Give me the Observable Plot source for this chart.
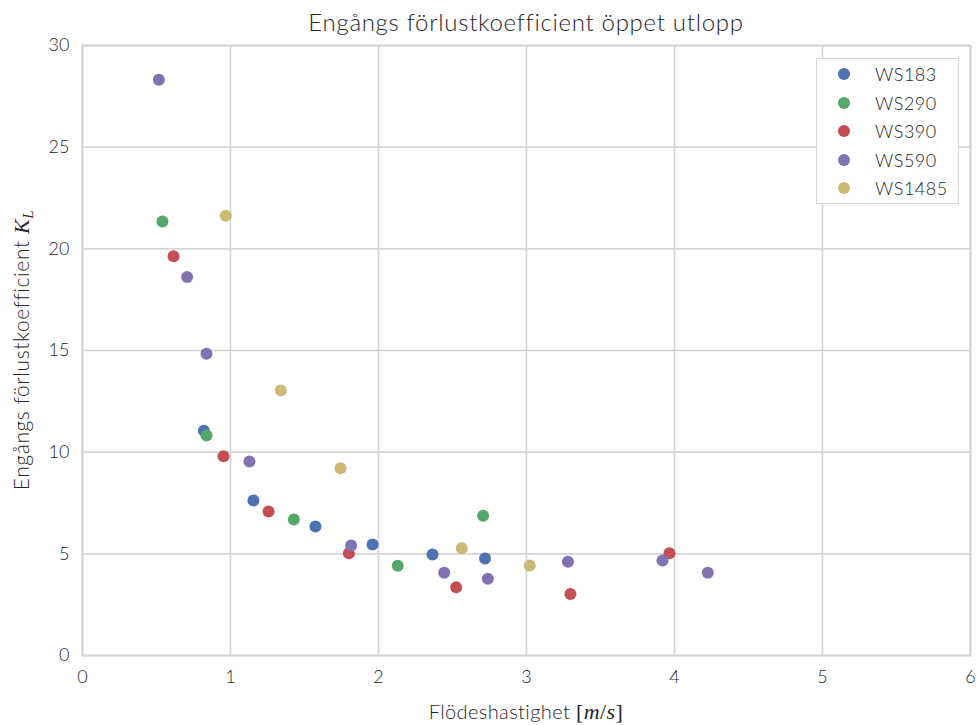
<!DOCTYPE html>
<html>
<head>
<meta charset="utf-8">
<script src="https://cdn.jsdelivr.net/npm/d3@7"></script>
<script src="https://cdn.jsdelivr.net/npm/@observablehq/plot@0.6"></script>
<style>
  html, body { margin: 0; padding: 0; background: #fff; }
  #wrap { position: relative; width: 977px; height: 725px; font-family: Lato, "Open Sans", sans-serif; color: #262626; }
  #legend { position: absolute; left: 816px; top: 58px; width: 143px; height: 146px; box-sizing: border-box;
            border: 1.5px solid #d8d8d8; background: #fff; }
  .row { position: absolute; left: 0; height: 28px; display: flex; align-items: center; font-size: 18px; font-weight: 300; letter-spacing: 0.5px; }
  .sw { width: 12px; height: 12px; border-radius: 50%; margin-left: 21px; margin-right: 25px; }
</style>
</head>
<body>
<div id="wrap"></div>
<script>
const series = ["WS183", "WS290", "WS390", "WS590", "WS1485"];
const colors = ["#4C72B0", "#55A868", "#C44E52", "#8172B2", "#CCB974"];

const ws183X = [0.82, 1.155, 1.574, 1.96, 2.365, 2.72];
const ws183Y = [11.05, 7.62, 6.35, 5.46, 4.97, 4.77];

const ws290X = [0.54, 0.838, 1.428, 2.13, 2.707];
const ws290Y = [21.35, 10.82, 6.69, 4.41, 6.87];

const ws390X = [0.615, 0.953, 1.257, 1.80, 2.525, 3.297, 3.966];
const ws390Y = [19.63, 9.80, 7.08, 5.03, 3.36, 3.03, 5.03];

const ws590X = [0.516, 0.707, 0.838, 1.128, 1.815, 2.444, 2.739, 3.28, 3.919, 4.225];
const ws590Y = [28.32, 18.61, 14.84, 9.54, 5.41, 4.07, 3.77, 4.61, 4.67, 4.07];

const ws1485X = [0.968, 1.34, 1.743, 2.563, 3.022];
const ws1485Y = [21.63, 13.03, 9.21, 5.28, 4.43];

const xTicks = [0, 1, 2, 3, 4, 5, 6];
const yTicks = [0, 5, 10, 15, 20, 25, 30];

const seriesX = [ws183X, ws290X, ws390X, ws590X, ws1485X];
const seriesY = [ws183Y, ws290Y, ws390Y, ws590Y, ws1485Y];
const data = [];
series.forEach((s, i) => seriesX[i].forEach((x, j) => data.push({series: s, x, y: seriesY[i][j]})));

const ML = 82, MR = 7, MT = 45, MB = 70, W = 977, H = 725;

const chart = Plot.plot({
  width: W, height: H,
  marginLeft: ML, marginRight: MR, marginTop: MT, marginBottom: MB,
  style: {fontFamily: "Lato, 'Open Sans', sans-serif", fontSize: "18px", fontWeight: 300, color: "#262626", background: "#fff"},
  x: {domain: [0, 6]},
  y: {domain: [0, 30]},
  color: {domain: series, range: colors},
  marks: [
    Plot.gridX(xTicks, {stroke: "#d4d4d4", strokeOpacity: 1, strokeWidth: 1.6}),
    Plot.gridY(yTicks, {stroke: "#d4d4d4", strokeOpacity: 1, strokeWidth: 1.6}),
    Plot.frame({stroke: "#d4d4d4", strokeWidth: 2}),
    Plot.axisX(xTicks, {tickSize: 0, tickPadding: 15, label: null, tickFormat: "d", fontSize: 18}),
    Plot.axisY(yTicks, {tickSize: 0, tickPadding: 13, label: null, tickFormat: "d", fontSize: 18}),
    Plot.dot(data, {x: "x", y: "y", fill: "series", r: 6, stroke: "none"})
  ]
});

document.getElementById("wrap").appendChild(chart);

const svg = d3.select(chart);
const MATH = "'Liberation Serif', 'DejaVu Serif', serif";
// title
svg.append("text")
  .attr("x", (ML + W - MR) / 2).attr("y", 31)
  .attr("text-anchor", "middle").attr("font-size", 24).attr("font-weight", 300)
  .attr("letter-spacing", 0.7).attr("fill", "#262626")
  .text("Engångs förlustkoefficient öppet utlopp");

// x label
const xl = svg.append("text")
  .attr("x", (ML + W - MR) / 2).attr("y", 719)
  .attr("text-anchor", "middle").attr("font-size", 20).attr("font-weight", 300)
  .attr("letter-spacing", 0.4).attr("fill", "#262626");
xl.append("tspan").text("Flödeshastighet ");
xl.append("tspan").attr("font-family", MATH).attr("font-weight", 400).attr("font-size", 22).text("[");
xl.append("tspan").attr("font-family", MATH).attr("font-weight", 400).attr("font-size", 22).attr("font-style", "italic").text("m");
xl.append("tspan").attr("font-family", MATH).attr("font-weight", 400).attr("font-size", 22).text("/");
xl.append("tspan").attr("font-family", MATH).attr("font-weight", 400).attr("font-size", 22).attr("font-style", "italic").text("s");
xl.append("tspan").attr("font-family", MATH).attr("font-weight", 400).attr("font-size", 22).text("]");

// y label
const yl = svg.append("text")
  .attr("transform", `translate(29, ${(MT + H - MB) / 2}) rotate(-90)`)
  .attr("text-anchor", "middle").attr("font-size", 21).attr("font-weight", 300)
  .attr("letter-spacing", 0.6).attr("fill", "#262626");
yl.append("tspan").text("Engångs förlustkoefficient ");
yl.append("tspan").attr("font-family", MATH).attr("font-weight", 400).attr("font-size", 22).attr("font-style", "italic").text("K");
yl.append("tspan").attr("font-family", MATH).attr("font-weight", 400).attr("font-style", "italic")
  .attr("font-size", 15).attr("dy", 4).text("L");

// legend
const lg = document.createElement("div");
lg.id = "legend";
series.forEach((s, i) => {
  const r = document.createElement("div");
  r.className = "row";
  r.style.top = (1 + i * 28.6) + "px";
  const sw = document.createElement("span");
  sw.className = "sw";
  sw.style.background = colors[i];
  const t = document.createElement("span");
  t.textContent = s;
  r.appendChild(sw); r.appendChild(t);
  lg.appendChild(r);
});
document.getElementById("wrap").appendChild(lg);
</script>
</body>
</html>
